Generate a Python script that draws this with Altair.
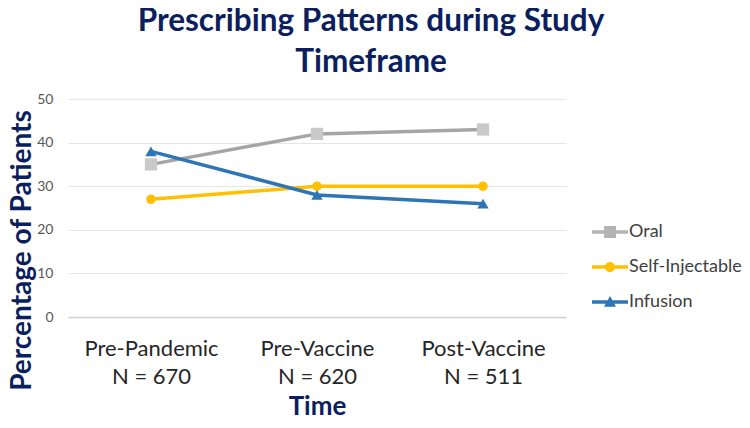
import altair as alt
import pandas as pd

categories = ["Pre-Pandemic|N = 670", "Pre-Vaccine|N = 620", "Post-Vaccine|N = 511"]
series = ["Oral", "Self-Injectable", "Infusion"]
oral = [35, 42, 43]
self_injectable = [27, 30, 30]
infusion = [38, 28, 26]

line_colors = ["#A5A5A5", "#FFC000", "#2E75B6"]
marker_colors = ["#C9C9C9", "#FFC000", "#2E75B6"]
legend_colors = ["#B4B4B4", "#FFC000", "#2E75B6"]
marker_shapes = ["square", "circle", "triangle-up"]
marker_sizes = [150, 90, 130]

legend_paths = [
    "M-1.5,-0.15L1.5,-0.15L1.5,0.15L-1.5,0.15Z M-0.5,-0.5L0.5,-0.5L0.5,0.5L-0.5,0.5Z",
    "M-1.5,-0.15L1.5,-0.15L1.5,0.15L-1.5,0.15Z M-0.42,0 A0.42,0.42 0 1,1 0.42,0 A0.42,0.42 0 1,1 -0.42,0Z",
    "M-1.5,-0.15L1.5,-0.15L1.5,0.15L-1.5,0.15Z M0,-0.5L0.5,0.4L-0.5,0.4Z",
]

rows = []
for s, vals in zip(series, [oral, self_injectable, infusion]):
    for c, v in zip(categories, vals):
        rows.append({"Time": c, "Series": s, "Value": v})
df = pd.DataFrame(rows)

NAVY = "#0B1F5E"
FONT = "Lato"

x = alt.X(
    "Time:N",
    sort=categories,
    scale=alt.Scale(type="point", padding=0.5),
    axis=alt.Axis(
        title="Time",
        labelExpr="split(datum.label, '|')",
        labelAngle=0,
        labelFontSize=22,
        labelLineHeight=28,
        labelColor="#262626",
        labelPadding=21,
        ticks=False,
        domainColor="#D0D0D0",
        domainWidth=1.5,
        grid=False,
        titleFontSize=26,
        titleFontWeight="bold",
        titleColor=NAVY,
        titlePadding=6,
    ),
)
y = alt.Y(
    "Value:Q",
    scale=alt.Scale(domain=[0, 50]),
    axis=alt.Axis(
        title="Percentage of Patients",
        values=[0, 10, 20, 30, 40, 50],
        labelFontSize=14,
        labelColor="#595959",
        labelPadding=15,
        ticks=False,
        domain=False,
        gridColor="#E6E6E6",
        gridWidth=1.2,
        titleFontSize=28,
        titleFontWeight="bold",
        titleColor=NAVY,
        titlePadding=0,
        titleY=151,
    ),
)

base = alt.Chart(df)

layers = []
for s, lc in zip(series, line_colors):
    layers.append(
        base.transform_filter(alt.datum.Series == s)
        .mark_line(strokeWidth=3.5, color=lc)
        .encode(x=x, y=y)
    )
for s, col, shp, sz in zip(series, marker_colors, marker_shapes, marker_sizes):
    layers.append(
        base.transform_filter(alt.datum.Series == s)
        .mark_point(shape=shp, filled=True, size=sz, color=col, opacity=1)
        .encode(x=x, y=y)
    )

leg = dict(
    title=None,
    orient="none",
    legendX=530,
    legendY=121,
    symbolSize=576,
    symbolStrokeWidth=0,
    symbolOpacity=1,
    labelFontSize=18,
    labelColor="#404040",
    labelOffset=7,
    rowPadding=14,
)

legend_layer = base.mark_point(filled=True, opacity=0).encode(
    x=x,
    y=y,
    color=alt.Color(
        "Series:N",
        scale=alt.Scale(domain=series, range=legend_colors),
        legend=alt.Legend(**leg),
    ),
    shape=alt.Shape(
        "Series:N",
        scale=alt.Scale(domain=series, range=legend_paths),
        legend=alt.Legend(**leg),
    ),
)
layers.append(legend_layer)

chart = (
    alt.layer(*layers)
    .properties(
        width=498,
        height=218,
        autosize=alt.AutoSizeParams(type="none"),
        padding={"left": 60, "top": 91, "right": 176, "bottom": 103},
        title=alt.TitleParams(
            text=["Prescribing Patterns during Study", "Timeframe"],
            fontSize=31.5,
            fontWeight="bold",
            color=NAVY,
            lineHeight=41,
            anchor="middle",
            frame="group",
            dx=54,
            offset=14,
        ),
    )
    .configure(font=FONT)
    .configure_view(stroke=None)
)

chart.save("out.html", embed_options={"renderer": "svg", "actions": False})
